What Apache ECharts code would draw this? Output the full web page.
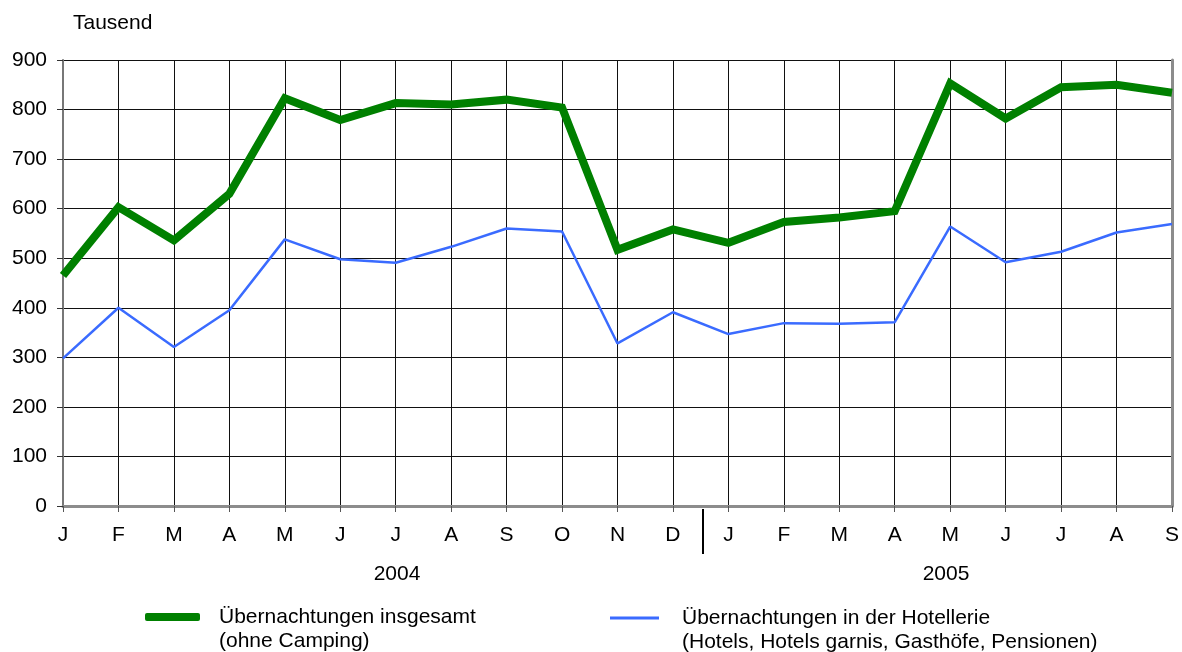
<!DOCTYPE html>
<html>
<head>
<meta charset="utf-8">
<script src="https://cdn.jsdelivr.net/npm/echarts@6/dist/echarts.min.js"></script>
<style>
html,body{margin:0;padding:0;background:#fff;}
#chart{width:1182px;height:652px;}
</style>
</head>
<body>
<div id="chart"></div>
<script>
const months = ['J','F','M','A','M','J','J','A','S','O','N','D','J','F','M','A','M','J','J','A','S'];
const yTicks = [0,100,200,300,400,500,600,700,800,900];
const totalName = 'Übernachtungen insgesamt';
const totalSub = '(ohne Camping)';
const hotelName = 'Übernachtungen in der Hotellerie';
const hotelSub = '(Hotels, Hotels garnis, Gasthöfe, Pensionen)';
const total = [465, 603, 536, 630, 823, 779, 813, 810, 820, 804, 517, 558, 531, 573, 582, 595, 853, 782, 845, 850, 834];
const hotel = [298, 400, 321, 395, 538, 498, 491, 523, 560, 554, 328, 391, 347, 369, 368, 371, 564, 492, 513, 552, 569];
const years = ['2004', '2005'];
const unit = 'Tausend';

const FONT = '"Liberation Sans", Arial, sans-serif';
const FS = 21;
const chart = echarts.init(document.getElementById('chart'));
const subs = {};
subs[totalName] = totalSub;
subs[hotelName] = hotelSub;

chart.setOption({
  animation: false,
  backgroundColor: '#fff',
  textStyle: { fontFamily: FONT },
  grid: { left: 63, right: 9, top: 60, bottom: 146, containLabel: false },
  xAxis: [{
    type: 'category',
    data: months,
    boundaryGap: false,
    axisLine: { lineStyle: { color: '#555', width: 2 } },
    axisTick: { show: true, length: 6, lineStyle: { color: '#555', width: 1 } },
    axisLabel: { color: '#000', fontSize: FS, fontFamily: FONT, margin: 19, interval: 0 },
    splitLine: { show: true, lineStyle: { color: '#111', width: 1 } }
  }, {
    type: 'category',
    data: months,
    boundaryGap: false,
    position: 'top',
    axisLine: { lineStyle: { color: '#8c8c8c', width: 3 } },
    axisTick: { show: false },
    axisLabel: { show: false },
    splitLine: { show: false }
  }],
  yAxis: [{
    type: 'value',
    min: yTicks[0],
    max: yTicks[yTicks.length - 1],
    interval: 100,
    axisLine: { show: true, lineStyle: { color: '#777', width: 2 } },
    axisTick: { show: true, length: 6, lineStyle: { color: '#333', width: 1 } },
    axisLabel: { color: '#000', fontSize: FS, fontFamily: FONT, margin: 16 },
    splitLine: { show: true, lineStyle: { color: '#111', width: 1 } }
  }, {
    type: 'value',
    min: yTicks[0],
    max: yTicks[yTicks.length - 1],
    interval: 100,
    position: 'right',
    axisLine: { show: true, lineStyle: { color: '#8c8c8c', width: 3 } },
    axisTick: { show: false },
    axisLabel: { show: false },
    splitLine: { show: false }
  }],
  legend: [{
    data: [totalName],
    left: 145,
    top: 581,
    padding: 0,
    icon: 'roundRect',
    itemWidth: 55,
    itemHeight: 8,
    itemStyle: { color: '#008000' },
    formatter: n => '\n' + n + '\n' + subs[n],
    textStyle: { fontSize: FS, lineHeight: 24, color: '#000', fontFamily: FONT, padding: [0, 0, 0, 14] }
  }, {
    data: [hotelName],
    left: 610,
    top: 582,
    padding: 0,
    icon: 'rect',
    itemWidth: 49,
    itemHeight: 3,
    itemStyle: { color: '#3a6bff' },
    formatter: n => '\n' + n + '\n' + subs[n],
    textStyle: { fontSize: FS, lineHeight: 24, color: '#000', fontFamily: FONT, padding: [0, 0, 0, 18] }
  }],
  graphic: [
    { type: 'text', left: 73, top: 13, style: { text: unit, fontSize: FS, fontFamily: FONT, fill: '#000' } },
    { type: 'text', x: 397, y: 574, style: { text: years[0], fontSize: FS, fontFamily: FONT, fill: '#000', align: 'center', verticalAlign: 'middle' } },
    { type: 'text', x: 946, y: 574, style: { text: years[1], fontSize: FS, fontFamily: FONT, fill: '#000', align: 'center', verticalAlign: 'middle' } },
    { type: 'line', shape: { x1: 703, y1: 509, x2: 703, y2: 554 }, style: { stroke: '#000', lineWidth: 2 } }
  ],
  series: [{
    name: hotelName,
    type: 'line',
    data: hotel,
    symbol: 'none',
    lineStyle: { color: '#3a6bff', width: 2.5 },
    itemStyle: { color: '#3a6bff' },
    z: 3
  }, {
    name: totalName,
    type: 'line',
    data: total,
    symbol: 'none',
    lineStyle: { color: '#008000', width: 8, join: 'miter' },
    itemStyle: { color: '#008000' },
    z: 4
  }]
});
</script>
</body>
</html>
